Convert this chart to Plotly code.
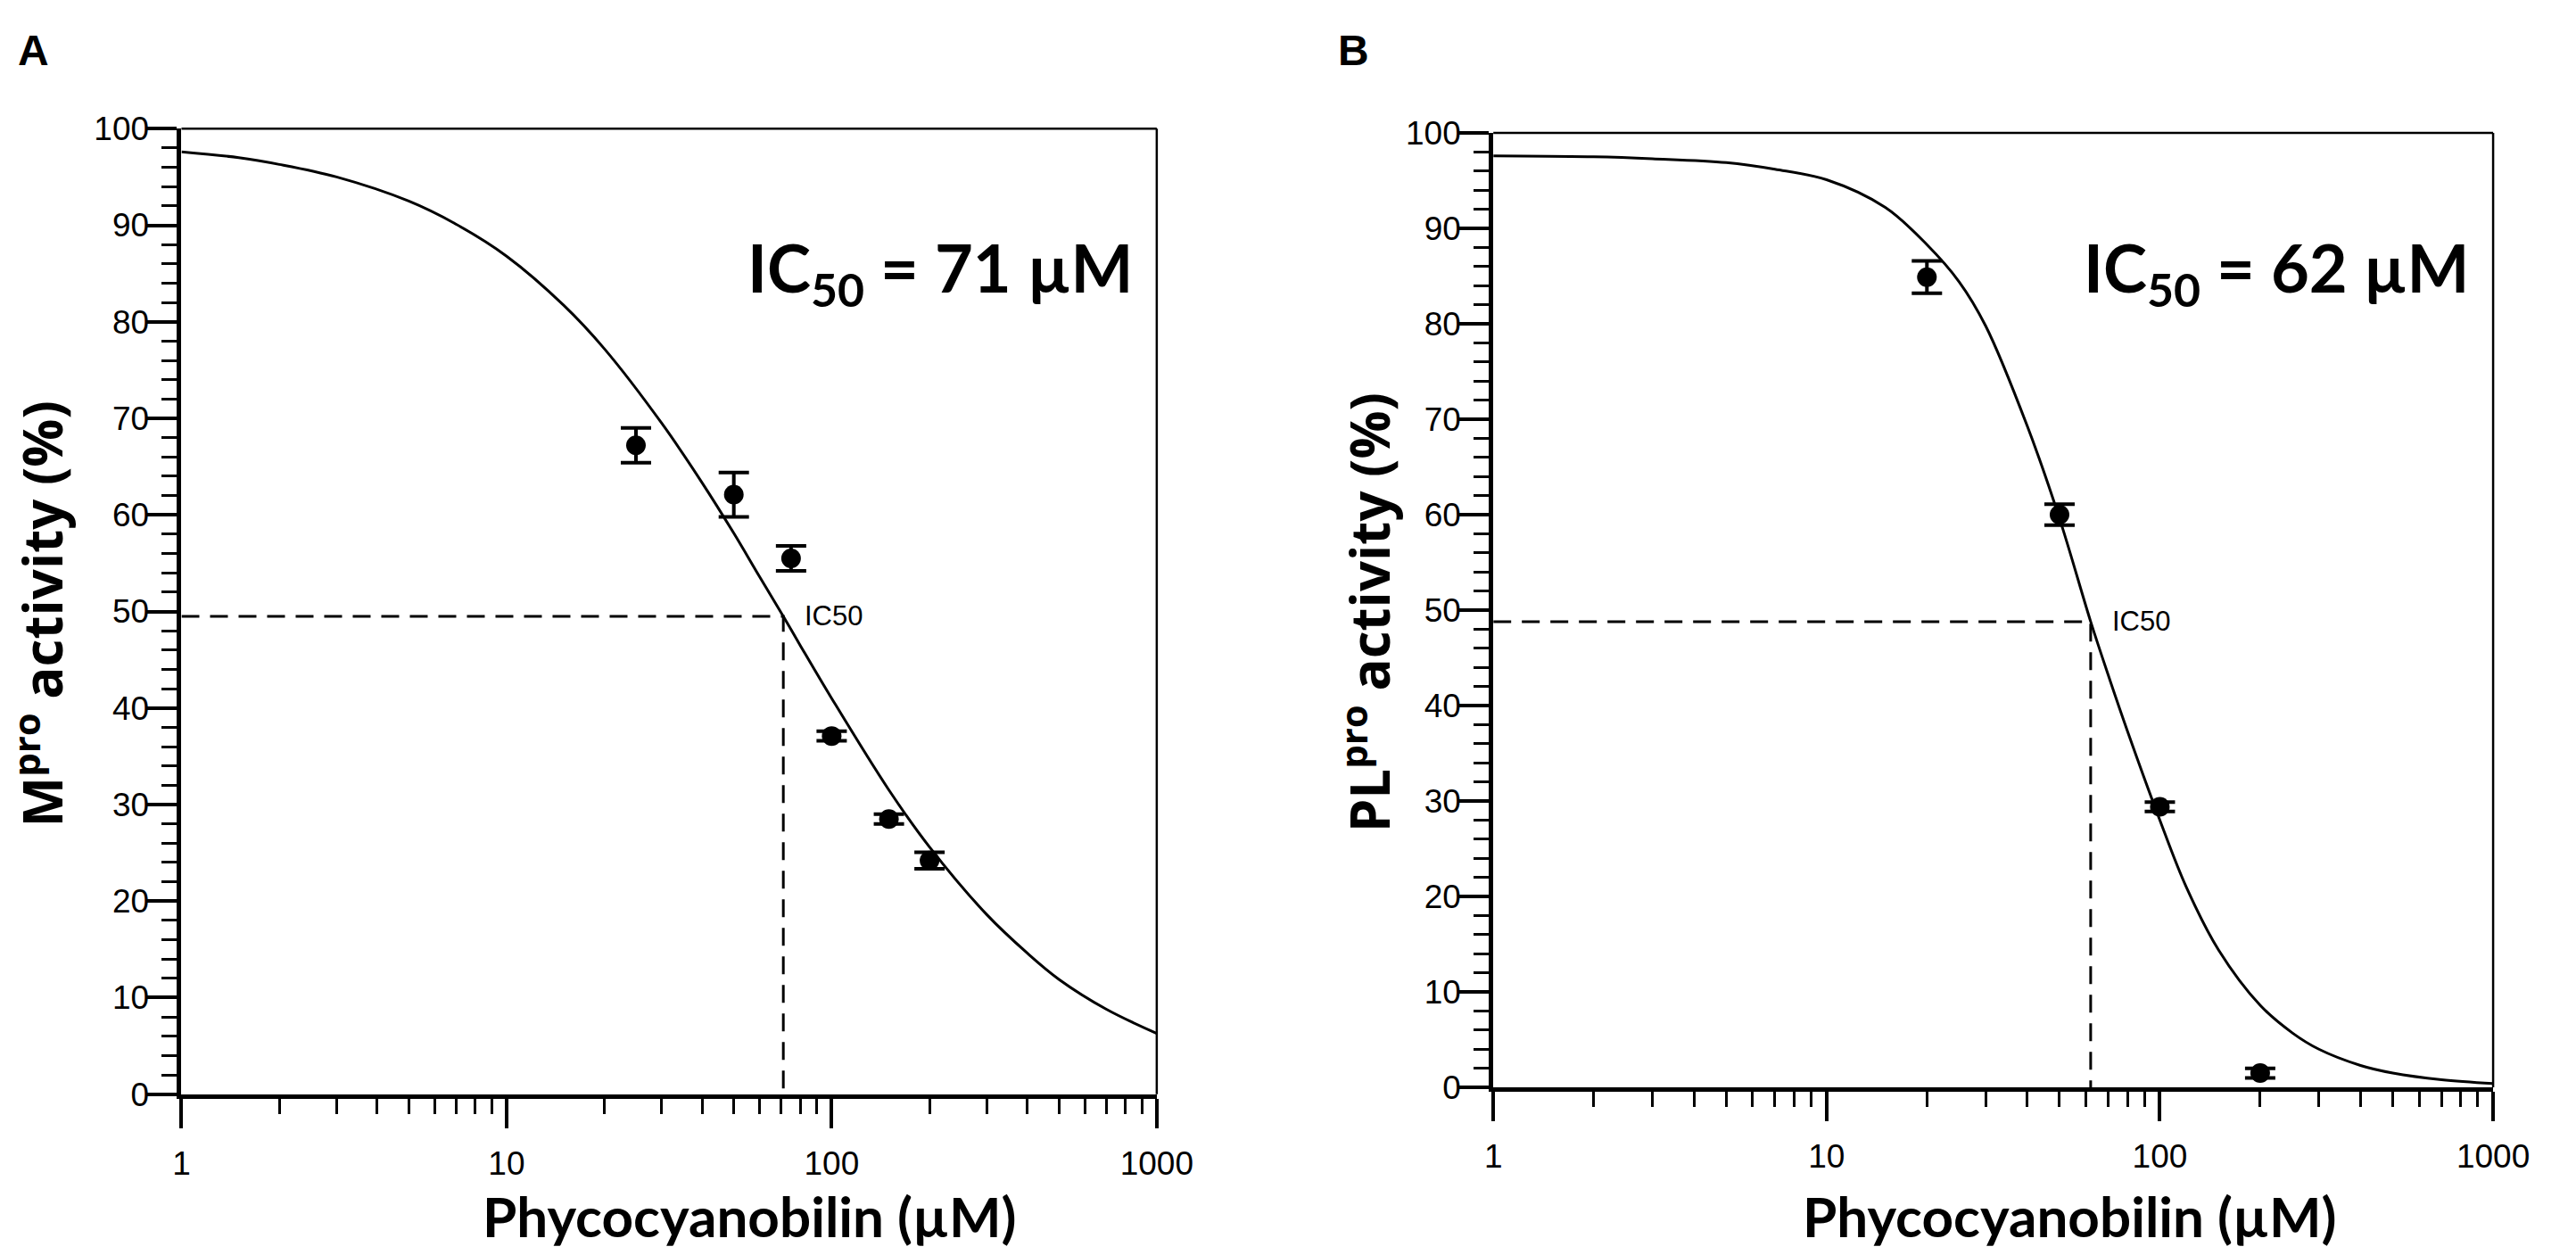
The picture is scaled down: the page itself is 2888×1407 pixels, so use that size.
import plotly.graph_objects as go

OUTPUT_HTML = "out.html"

# Panel A - Mpro
A_DOSE = [25, 50, 75, 100, 150, 200]
A_ACTIVITY = [67.2, 62.1, 55.5, 37.1, 28.5, 24.2]
A_ERR = [1.8, 2.3, 1.3, 0.5, 0.5, 0.85]
A_FIT_X = [1, 1.5, 2, 3, 5, 7, 10, 15, 20, 30, 40, 50, 60, 71, 80, 100, 150, 200, 300, 400, 500, 700, 1000]
A_FIT_Y = [97.6, 97.0, 96.3, 95.0, 92.5, 90.1, 86.8, 81.7, 77.2, 69.5, 63.3, 58.1, 53.6, 49.5, 46.5,
           41.0, 31.5, 25.6, 18.6, 14.6, 11.9, 8.8, 6.3]
A_IC50 = 71
A_HALF = 49.5

# Panel B - PLpro
B_DOSE = [20, 50, 100, 200]
B_ACTIVITY = [84.9, 60.0, 29.4, 1.5]
B_ERR = [1.7, 1.1, 0.5, 0.5]
B_FIT_X = [1, 2, 3, 5, 7, 10, 15, 20, 25, 30, 40, 50, 62, 70, 80, 100, 120, 150, 200, 250, 300, 400, 500, 700, 1000]
B_FIT_Y = [97.6, 97.5, 97.3, 96.9, 96.2, 95.1, 92.2, 88.3, 84.4, 79.8, 69.3, 59.6, 48.8, 43.2, 37.3,
           28.0, 21.0, 14.4, 8.6, 5.7, 4.0, 2.3, 1.5, 0.8, 0.4]
B_IC50 = 62
B_HALF = 48.8

X_TICKS = [1, 10, 100, 1000]
X_TICK_TEXT = ["1", "10", "100", "1000"]
X_MINOR = [2, 3, 4, 5, 6, 7, 8, 9, 20, 30, 40, 50, 60, 70, 80, 90, 200, 300, 400, 500, 600, 700, 800, 900]

TICK_FONT = dict(family="Liberation Sans, Arial", size=37, color="black")
BOLD_FONT = "Lato, Open Sans, sans-serif"
TITLE_FONT = "Open Sans, DejaVu Sans, sans-serif"


def x_axis(domain, anchor):
    return dict(
        type="log", range=[0, 3], domain=domain, anchor=anchor,
        showline=True, linewidth=5, linecolor="black",
        ticks="outside", ticklen=33, tickwidth=4, tickcolor="black",
        tickvals=X_TICKS, ticktext=X_TICK_TEXT, tickfont=TICK_FONT, ticklabelstandoff=8,
        minor=dict(tickvals=X_MINOR, ticks="outside", ticklen=17, tickwidth=3, tickcolor="black"),
        showgrid=False, zeroline=False,
    )


def y_axis(domain, anchor):
    return dict(
        range=[0, 100], domain=domain, anchor=anchor,
        showline=True, linewidth=5, linecolor="black",
        ticks="outside", ticklen=34, tickwidth=4, tickcolor="black",
        dtick=10, tickfont=TICK_FONT, ticklabelstandoff=-10,
        minor=dict(dtick=2, ticks="outside", ticklen=17, tickwidth=3, tickcolor="black"),
        showgrid=False, zeroline=False,
    )


def add_panel(fig, xa, ya, fit_x, fit_y, dose, act, err, ic50, half):
    # fitted curve
    fig.add_trace(go.Scatter(
        x=fit_x, y=fit_y, mode="lines", line=dict(color="black", width=3, shape="spline"),
        xaxis=xa, yaxis=ya, showlegend=False, hoverinfo="skip", cliponaxis=False
    ))
    # IC50 guide lines
    fig.add_trace(go.Scatter(
        x=[X_TICKS[0], ic50, ic50], y=[half, half, 0], mode="lines",
        line=dict(color="black", width=3, dash="20px,12px"),
        xaxis=xa, yaxis=ya, showlegend=False, hoverinfo="skip"
    ))
    # measured points
    fig.add_trace(go.Scatter(
        x=dose, y=act, mode="markers",
        marker=dict(color="black", size=22, symbol="circle"),
        error_y=dict(type="data", array=err, visible=True, color="black", thickness=4, width=17),
        xaxis=xa, yaxis=ya, showlegend=False, cliponaxis=False
    ))


fig = go.Figure()
add_panel(fig, "x", "y", A_FIT_X, A_FIT_Y, A_DOSE, A_ACTIVITY, A_ERR, A_IC50, A_HALF)
add_panel(fig, "x2", "y2", B_FIT_X, B_FIT_Y, B_DOSE, B_ACTIVITY, B_ERR, B_IC50, B_HALF)

annotations = [
    dict(text="<b>A</b>", x=0.0097, y=0.973, font=dict(family="Liberation Sans, Arial", size=48)),
    dict(text="<b>B</b>", x=0.5315, y=0.973, font=dict(family="Liberation Sans, Arial", size=48)),
    dict(text="<b>IC<sub>50</sub> = 71 µM</b>", x=0.4450, y=0.791, xanchor="right",
         font=dict(family=BOLD_FONT, size=74)),
    dict(text="<b>IC<sub>50</sub> = 62 µM</b>", x=0.9730, y=0.791, xanchor="right",
         font=dict(family=BOLD_FONT, size=74)),
    dict(text="<b>M<sup>pro</sup> activity (%)</b>", x=0.0118, y=0.511, textangle=-90,
         font=dict(family=TITLE_FONT, size=60)),
    dict(text="<b>PL<sup>pro</sup> activity (%)</b>", x=0.5364, y=0.512, textangle=-90,
         font=dict(family=TITLE_FONT, size=60)),
    dict(text="<b>Phycocyanobilin (µM)</b>", x=0.2926, y=0.017, font=dict(family=BOLD_FONT, size=62)),
    dict(text="<b>Phycocyanobilin (µM)</b>", x=0.8144, y=0.017, font=dict(family=BOLD_FONT, size=62)),
]
for a in annotations:
    a.update(xref="paper", yref="paper", showarrow=False)
    a.setdefault("xanchor", "center")
    a.setdefault("yanchor", "middle")
    a["font"].setdefault("color", "black")

# small IC50 labels at the guide-line corner (annotation x on log axes is log10)
annotations.append(dict(text="IC50", xref="x", yref="y", x=1.8513, y=A_HALF, xanchor="left",
                        yanchor="middle", xshift=22, showarrow=False,
                        font=dict(family="Liberation Sans, Arial", size=31, color="black")))
annotations.append(dict(text="IC50", xref="x2", yref="y2", x=1.7924, y=B_HALF, xanchor="left",
                        yanchor="middle", xshift=22, showarrow=False,
                        font=dict(family="Liberation Sans, Arial", size=31, color="black")))

# thin frame on top and right
shapes = []
for xr, yr in (("x domain", "y domain"), ("x2 domain", "y2 domain")):
    shapes.append(dict(type="line", xref=xr, yref=yr, x0=0, x1=1, y0=1, y1=1,
                       line=dict(color="black", width=2.5)))
    shapes.append(dict(type="line", xref=xr, yref=yr, x0=1, x1=1, y0=0, y1=1,
                       line=dict(color="black", width=2.5)))

fig.update_layout(
    width=2888, height=1407,
    margin=dict(l=0, r=0, t=0, b=0),
    paper_bgcolor="white", plot_bgcolor="white",
    xaxis=x_axis([0.0682, 0.4536], "y"),
    yaxis=y_axis([0.1166, 0.9090], "x"),
    xaxis2=x_axis([0.5866, 0.9817], "y2"),
    yaxis2=y_axis([0.1222, 0.9055], "x2"),
    annotations=annotations,
    shapes=shapes,
    showlegend=False,
)

fig.write_html(OUTPUT_HTML, config={"displayModeBar": False},
               post_script="document.body.style.margin='0';")
